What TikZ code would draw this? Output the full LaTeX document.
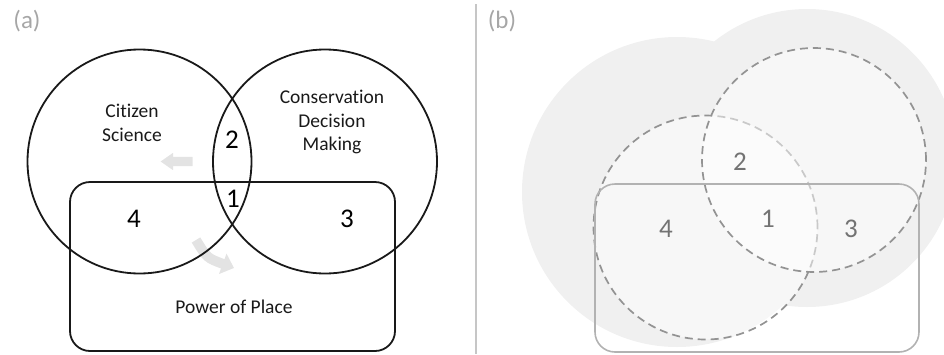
\documentclass[tikz,border=0pt]{standalone}
\usepackage{fontspec}
\setmainfont{Carlito}[Ligatures=NoCommon]
\usetikzlibrary{shapes.arrows,arrows.meta}

\begin{document}
\begin{tikzpicture}[x=1pt,y=-1pt,
    ring/.style={circle,draw=black!90,line width=1.8pt,minimum size=224pt,inner sep=0pt},
    dashring/.style={circle,draw=gray!85,dash pattern=on 8pt off 5pt,line width=1.7pt,minimum size=224pt,inner sep=0pt,fill=white,fill opacity=0.5},
    halo/.style={circle,fill=gray!12,inner sep=0pt},
    placebox/.style={draw=black!90,rounded corners=20pt,line width=1.8pt,minimum width=325pt,minimum height=169pt,inner sep=0pt},
    tag/.style={text=gray!70,font=\fontsize{25}{28}\selectfont},
    num/.style={font=\fontsize{27}{30}\selectfont},
    lbl/.style={font=\fontsize{19.5}{23.5}\selectfont,align=center,text=black!90},
    shade/.style={gray!22}]
    \useasboundingbox (0,0) rectangle (944,354);

    \node[tag] (taga) at (27,21) {(a)};
    \node[single arrow,fill=gray!22,shape border rotate=180,minimum height=32pt,inner sep=4.5pt,single arrow head extend=4pt,single arrow tip angle=70] (shiftleft) at (180,161.5) {};
    \coordinate (bendfrom) at (196,240);
    \coordinate (bendto) at (234,268);
    \draw[shade,line width=10pt,-{Triangle[length=12pt,width=21pt]}] (bendfrom) .. controls (207,258) .. (bendto);
    \node[ring] (cs) at (139.5,161.5) {};
    \node[ring] (cdm) at (325,161.5) {};
    \node[placebox] (pop) at (232.5,266.5) {};
    \node[lbl] (cstext) at (132,123) {Citizen\\Science};
    \node[lbl] (cdmtext) at (332,122) {Conservation\\Decision\\Making};
    \node[lbl] (poptext) at (234,307) {Power of Place};
    \node[num] (a2) at (232,140) {2};
    \node[num] (a1) at (233,199) {1};
    \node[num] (a4) at (134,219) {4};
    \node[num] (a3) at (347,219) {3};

    \coordinate (divtop) at (476,4);
    \coordinate (divbot) at (476,354);
    \draw[gray!45,line width=2pt] (divtop) -- (divbot);

    \node[tag] (tagb) at (502,21) {(b)};
    \node[halo,minimum size=310pt] (haloleft) at (677,192) {};
    \node[halo,minimum size=298pt] (haloright) at (807,158) {};
    \node[dashring] (csb) at (705.5,227.5) {};
    \node[dashring] (cdmb) at (814,160) {};
    \node[placebox,draw=gray!60,line width=1.6pt,minimum width=324pt,minimum height=168pt] (popb) at (757,268) {};
    \node[num,text=black!55] (b2) at (740,162) {2};
    \node[num,text=black!55] (b1) at (768,219) {1};
    \node[num,text=black!55] (b4) at (666,229) {4};
    \node[num,text=black!55] (b3) at (851,229) {3};
\end{tikzpicture}
\end{document}
